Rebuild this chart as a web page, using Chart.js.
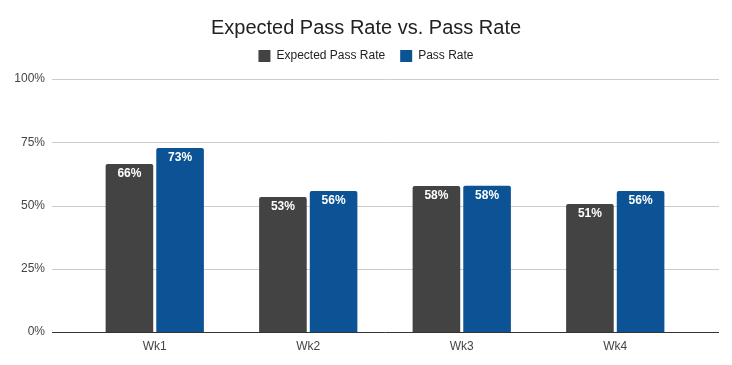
<!DOCTYPE html>
<html>
<head>
<meta charset="utf-8">
<script src="https://cdn.jsdelivr.net/npm/chart.js@4"></script>
<style>
  html, body { margin: 0; padding: 0; background: #fff; }
  #wrap { width: 732px; height: 365px; position: relative; }
</style>
</head>
<body>
<div id="wrap"><canvas id="chart"></canvas></div>
<script>
const weeks = ['Wk1', 'Wk2', 'Wk3', 'Wk4'];
const expectedPassRate = [0.664, 0.534, 0.577, 0.506];
const passRate = [0.727, 0.557, 0.578, 0.557];
const yTicks = [0, 0.25, 0.5, 0.75, 1];

const FONT = 'Arial, "Liberation Sans", sans-serif';

// gridlines run wider than the bar area, like the Sheets chart
const gridPlugin = {
  id: 'wideGrid',
  beforeLayout(chart) {
    // fixed legend block height so the plot starts where the original does
    const lg = chart.legend;
    if (lg && !lg._patched) {
      const fit = lg.fit;
      lg.fit = function () {
        fit.call(this);
        this.height = 44;
      };
      lg._patched = true;
    }
  },
  beforeDatasetsDraw(chart) {
    const { ctx } = chart;
    const y = chart.scales.y;
    ctx.save();
    ctx.strokeStyle = '#cccccc';
    ctx.lineWidth = 1;
    yTicks.forEach(t => {
      if (t === 0) return;
      const py = Math.round(y.getPixelForValue(t)) + 0.5;
      ctx.beginPath();
      ctx.moveTo(52, py);
      ctx.lineTo(719, py);
      ctx.stroke();
    });
    ctx.restore();
  },
  afterDatasetsDraw(chart) {
    const { ctx } = chart;
    const y = chart.scales.y;
    ctx.save();
    ctx.strokeStyle = '#333333';
    ctx.lineWidth = 1;
    const py = Math.round(y.getPixelForValue(0)) + 0.5;
    ctx.beginPath();
    ctx.moveTo(52, py);
    ctx.lineTo(719, py);
    ctx.stroke();

    // value labels inside bar tops
    ctx.fillStyle = '#ffffff';
    ctx.font = 'bold 12px ' + FONT;
    ctx.textAlign = 'center';
    ctx.textBaseline = 'middle';
    chart.data.datasets.forEach((ds, i) => {
      chart.getDatasetMeta(i).data.forEach((bar, j) => {
        ctx.fillText(Math.round(ds.data[j] * 100) + '%', bar.x, bar.y + 10);
      });
    });
    ctx.restore();
  }
};

new Chart(document.getElementById('chart'), {
  type: 'bar',
  data: {
    labels: weeks,
    datasets: [
      {
        label: 'Expected Pass Rate',
        data: expectedPassRate,
        backgroundColor: '#434343',
        borderRadius: 2,
        borderSkipped: 'bottom',
        categoryPercentage: 0.66,
        barPercentage: 0.94,
      },
      {
        label: 'Pass Rate',
        data: passRate,
        backgroundColor: '#0b5394',
        borderRadius: 2,
        borderSkipped: 'bottom',
        categoryPercentage: 0.66,
        barPercentage: 0.94,
      },
    ],
  },
  options: {
    responsive: true,
    maintainAspectRatio: false,
    animation: false,
    layout: { padding: { left: 0, right: 0, top: 0, bottom: 7 } },
    plugins: {
      title: {
        display: true,
        text: 'Expected Pass Rate vs. Pass Rate',
        color: '#222222',
        font: { family: FONT, size: 20, weight: 'normal' },
        padding: { top: 16, bottom: -5 },
      },
      legend: {
        display: true,
        labels: {
          color: '#222222',
          font: { family: FONT, size: 12 },
          boxWidth: 12,
          boxHeight: 12,
          padding: 15,
        },
      },
      tooltip: { enabled: false },
    },
    scales: {
      x: {
        afterFit(scale) { scale.height = 26; },
        grid: { display: false, drawTicks: false },
        border: { display: false },
        ticks: { color: '#444444', font: { family: FONT, size: 12 }, padding: 7 },
      },
      y: {
        min: 0,
        max: 1,
        afterFit(scale) {
          scale.width = 78;
          // the wide tick padding is horizontal only; don't reserve it vertically
          scale.paddingTop = 0;
          scale.paddingBottom = 0;
        },
        afterBuildTicks(scale) { scale.ticks = yTicks.map(v => ({ value: v })); },
        grid: { display: false, drawTicks: false },
        border: { display: false },
        ticks: {
          color: '#444444',
          font: { family: FONT, size: 12 },
          padding: 33,
          callback: v => Math.round(v * 100) + '%',
        },
      },
      // empty right-hand axis, only reserves the margin right of the bars
      yRight: {
        position: 'right',
        display: true,
        afterFit(scale) {
          scale.width = 40;
          scale.paddingTop = 0;
          scale.paddingBottom = 0;
        },
        grid: { display: false, drawTicks: false },
        border: { display: false },
        ticks: { display: false },
      },
    },
  },
  plugins: [gridPlugin],
});
</script>
</body>
</html>
